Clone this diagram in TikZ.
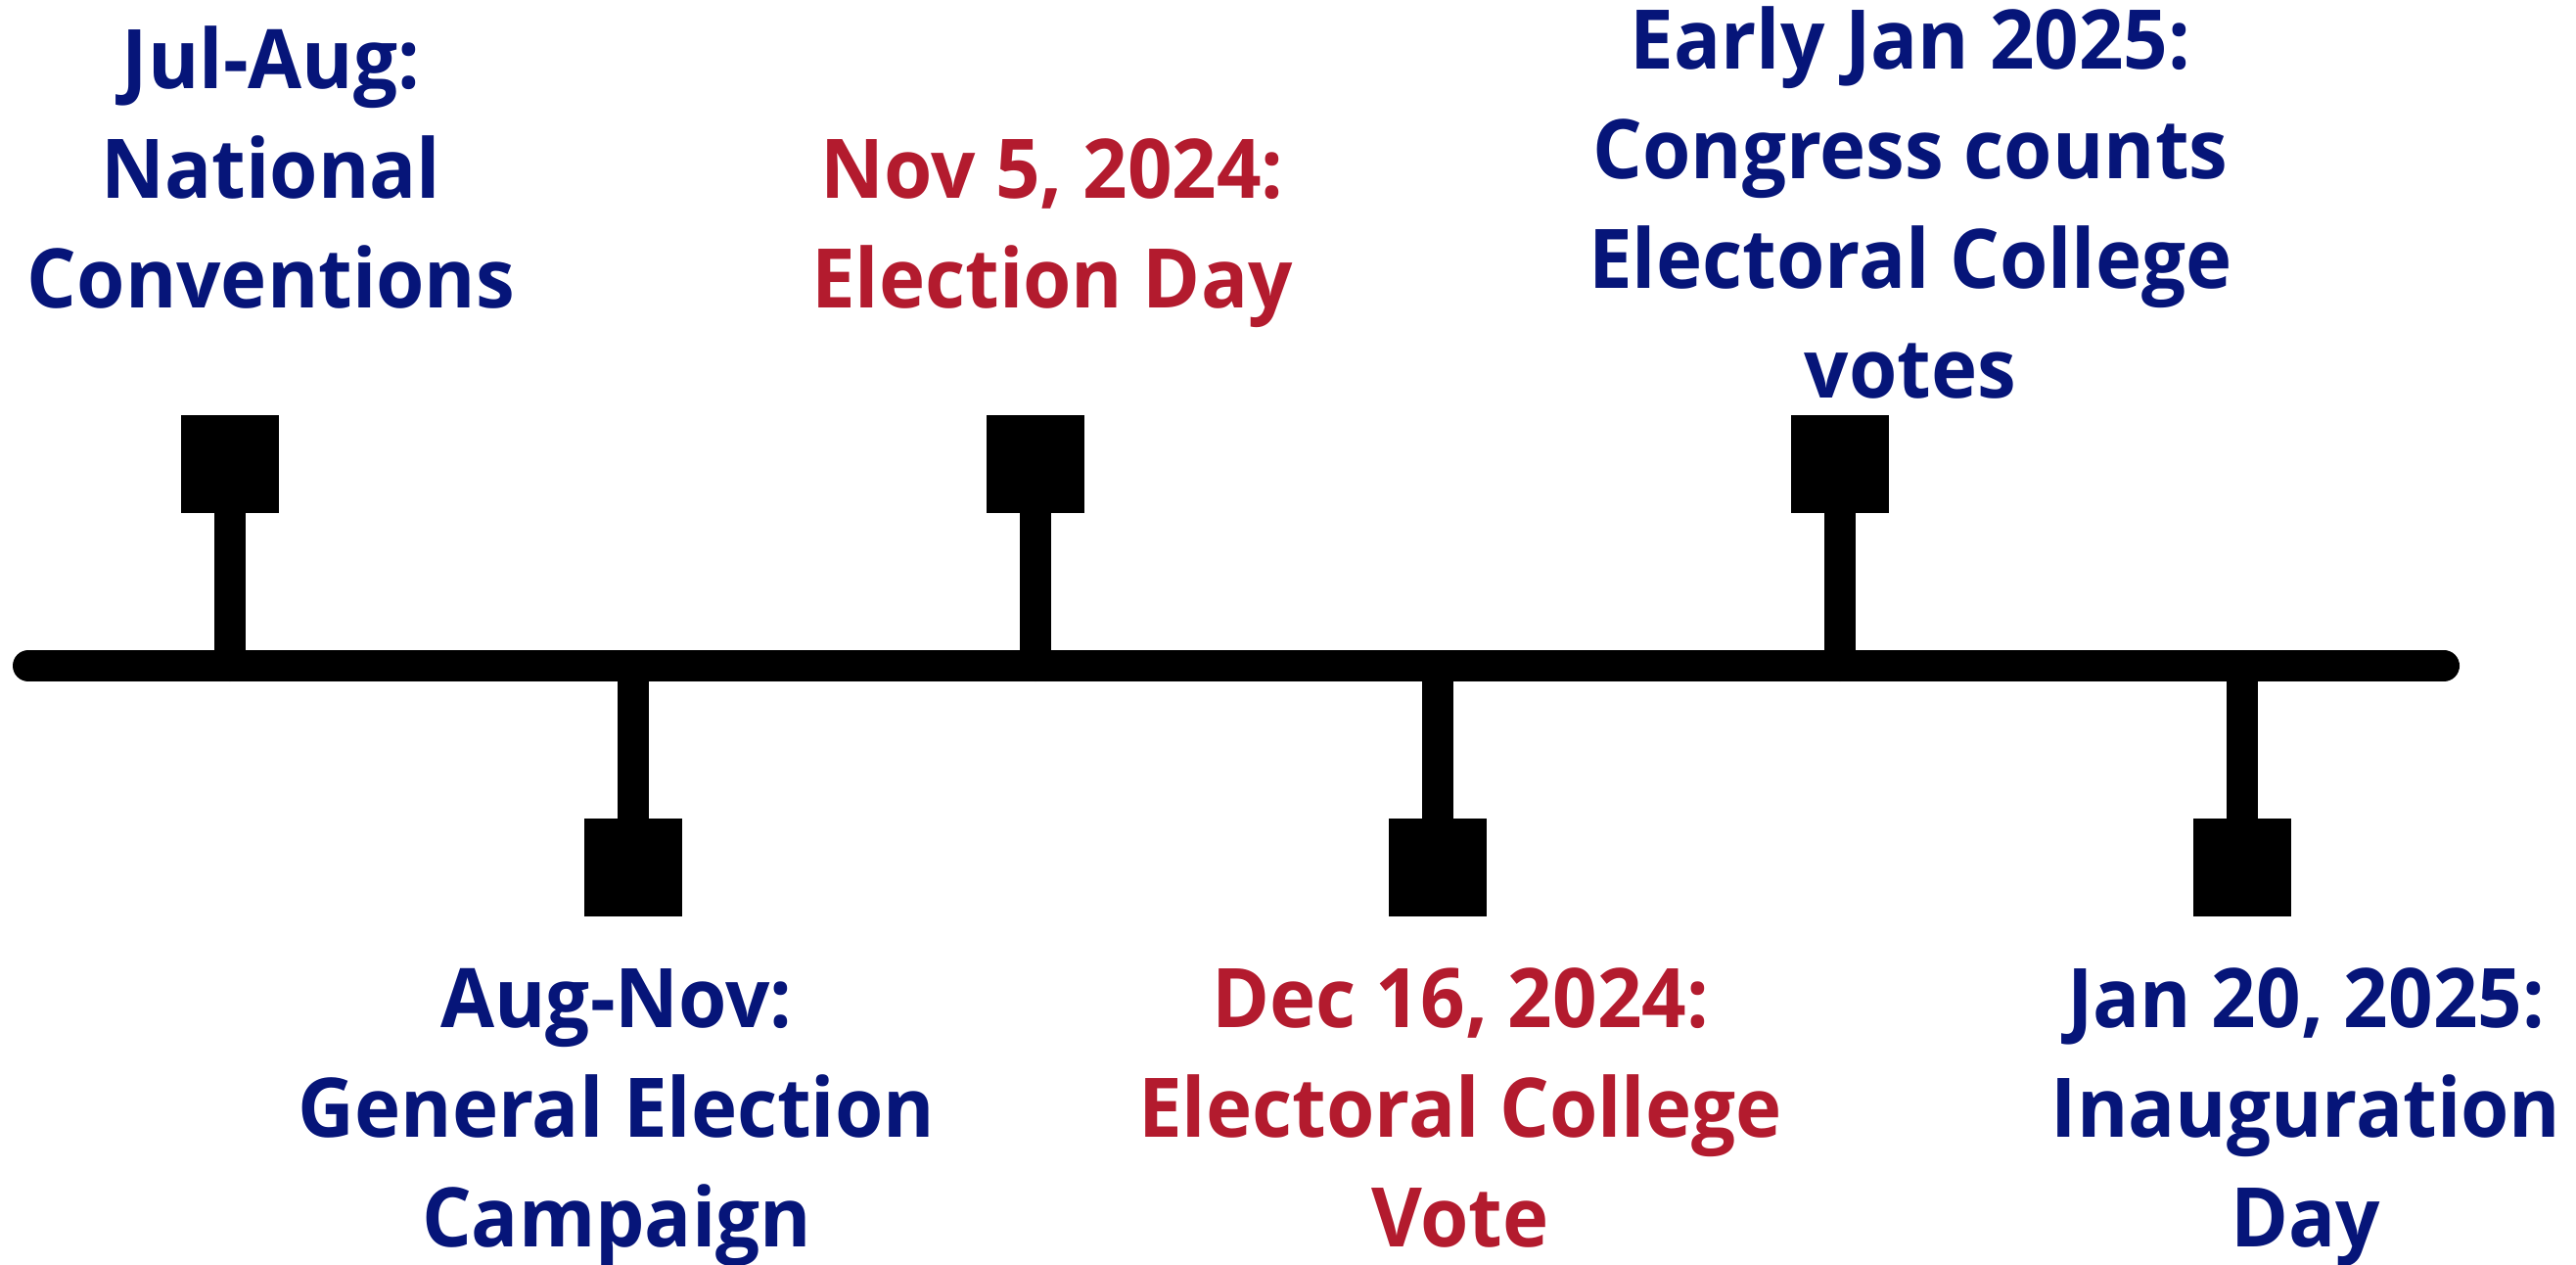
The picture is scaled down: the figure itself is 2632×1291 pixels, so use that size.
\documentclass[tikz,border=0pt]{standalone}
\usepackage{fontspec}
\setmainfont{Open Sans}[FakeStretch=0.95]
\definecolor{navy}{HTML}{061579}
\definecolor{crimson}{HTML}{B31B2E}
\begin{document}
\begin{tikzpicture}[x=1pt,y=-1pt,
  marker/.style={fill=black, draw=none, minimum size=100pt, inner sep=0pt, outer sep=0pt},
  stem/.style={line width=32pt, line cap=round, draw=black},
  lbl/.style={font=\fontsize{84}{112}\selectfont\bfseries, align=center, inner sep=0pt, anchor=base},
  blue lbl/.style={lbl, text=navy},
  red lbl/.style={lbl, text=crimson}]
\useasboundingbox (0,0) rectangle (2632,1291);
\coordinate (L) at (29,680);
\coordinate (R) at (2497,680);
\draw[stem] (L) -- (R);
% markers
\node[marker] (m1) at (235,474) {};
\node[marker] (m2) at (647,886) {};
\node[marker] (m3) at (1058,474) {};
\node[marker] (m4) at (1469,886) {};
\node[marker] (m5) at (1880,474) {};
\node[marker] (m6) at (2291,886) {};
\coordinate (j1) at (235,680);
\coordinate (j2) at (647,680);
\coordinate (j3) at (1058,680);
\coordinate (j4) at (1469,680);
\coordinate (j5) at (1880,680);
\coordinate (j6) at (2291,680);
\foreach \i in {1,...,6} \draw[stem] (m\i.center) -- (j\i);
% labels (anchor = baseline of last line)
\node[blue lbl] (t1) at (277,314) {Jul-Aug:\\National\\Conventions};
\node[blue lbl] (t2) at (630,1273) {Aug-Nov:\\General Election\\Campaign};
\node[red lbl] (t3) at (1075,314) {Nov 5, 2024:\\Election Day};
\node[red lbl] (t4) at (1492,1273) {Dec 16, 2024:\\Electoral College\\Vote};
\node[blue lbl] (t5) at (1952,406) {Early Jan 2025:\\Congress counts\\Electoral College\\votes};
\node[blue lbl] (t6) at (2356,1273) {Jan 20, 2025:\\Inauguration\\Day};
\end{tikzpicture}
\end{document}
